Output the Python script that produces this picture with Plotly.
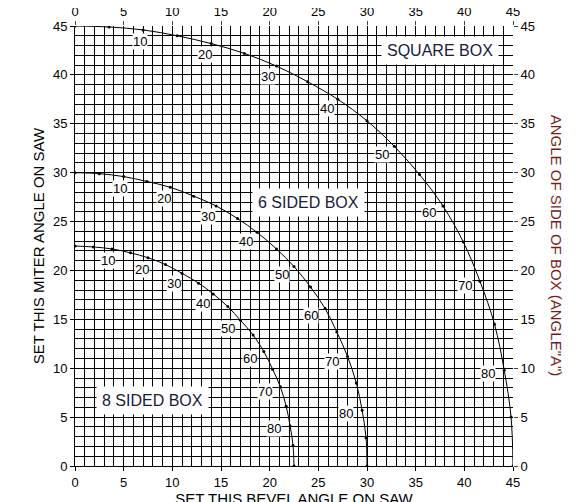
import plotly.graph_objects as go
import math

# angle of side of box, every 5 degrees
side_angle = list(range(0, 95, 5))

# bevel (x) and miter (y) for each side angle
square_bevel = [0, 3.5, 7.0, 10.5, 14.0, 17.4, 20.7, 23.9, 27.0, 30.0, 32.8, 35.4, 37.8, 39.9, 41.6, 43.1, 44.1, 44.8, 45]
square_miter = [45, 44.9, 44.6, 44.0, 43.2, 42.2, 40.9, 39.3, 37.5, 35.3, 32.7, 29.8, 26.6, 22.9, 18.9, 14.5, 9.8, 5.0, 0]
hex_bevel = [0, 2.5, 5.0, 7.4, 9.8, 12.2, 14.5, 16.7, 18.7, 20.7, 22.5, 24.2, 25.7, 26.9, 28.0, 28.9, 29.5, 29.9, 30]
hex_miter = [30, 29.9, 29.6, 29.1, 28.5, 27.6, 26.6, 25.3, 23.9, 22.2, 20.4, 18.3, 16.1, 13.7, 11.2, 8.5, 5.7, 2.9, 0]
oct_bevel = [0, 1.9, 3.8, 5.7, 7.5, 9.3, 11.0, 12.7, 14.2, 15.7, 17.0, 18.3, 19.4, 20.3, 21.1, 21.7, 22.1, 22.4, 22.5]
oct_miter = [22.5, 22.4, 22.2, 21.8, 21.3, 20.6, 19.7, 18.7, 17.6, 16.3, 14.9, 13.4, 11.7, 9.9, 8.1, 6.1, 4.1, 2.1, 0]

box_names = ["SQUARE BOX", "6 SIDED BOX", "8 SIDED BOX"]
box_label_pos = [(37.5, 42.5), (24, 27), (8, 6.7)]

font = "Liberation Sans, Arial, sans-serif"
fig = go.Figure()

for bx, my in [(square_bevel, square_miter), (hex_bevel, hex_miter), (oct_bevel, oct_miter)]:
    fig.add_trace(go.Scatter(x=bx, y=my, mode="lines+markers", line=dict(color="black", width=1, shape="spline"),
                             marker=dict(color="black", size=3), showlegend=False, hoverinfo="skip"))
    for a, x, y in zip(side_angle, bx, my):
        if a % 10 == 0 and 0 < a < 90:
            r = math.radians(a)
            fig.add_annotation(x=x, y=y, text=str(a), showarrow=False, bgcolor="white", borderpad=0,
                               xshift=-15 * math.sin(r) - 1, yshift=-11 * math.cos(r) - 1,
                               font=dict(size=13, color="black", family=font))

for name, (x, y) in zip(box_names, box_label_pos):
    fig.add_annotation(x=x, y=y, text=name, showarrow=False, bgcolor="white", borderpad=5,
                       font=dict(size=16, color="#1a1a3a", family=font))

# dummy traces for the top and right axes
fig.add_trace(go.Scatter(x=[0, 45], y=[0, 45], xaxis="x2", yaxis="y2", mode="none", showlegend=False, hoverinfo="skip"))

ax = dict(range=[0, 45], dtick=5, tick0=0, showgrid=True, gridcolor="black", gridwidth=1,
          minor=dict(dtick=1, showgrid=True, gridcolor="black", gridwidth=1),
          ticks="outside", ticklen=4, tickcolor="black", showline=True, linecolor="black", linewidth=1,
          zeroline=False, automargin=False, tickfont=dict(size=13, color="black", family=font))
ax2 = dict(range=[0, 45], dtick=5, showgrid=False, ticks="outside", ticklen=4, automargin=False,
           tickfont=dict(size=13, color="black", family=font))

fig.update_layout(
    width=585, height=502, plot_bgcolor="white", paper_bgcolor="white",
    margin=dict(l=67, r=80, t=18, b=44),
    xaxis=dict(ax, title=dict(text="SET THIS BEVEL ANGLE ON SAW", standoff=2,
                               font=dict(size=15, color="black", family=font))),
    yaxis=dict(ax, title=dict(text="SET THIS MITER ANGLE ON SAW", standoff=4,
                               font=dict(size=15, color="black", family=font))),
    xaxis2=dict(ax2, overlaying="x", side="top"),
    yaxis2=dict(ax2, overlaying="y", side="right"),
)
fig.add_annotation(xref="paper", yref="paper", x=1.125, y=0.5, text='ANGLE OF SIDE OF BOX (ANGLE"A")',
                   textangle=90, showarrow=False, font=dict(size=15, color="#7a1a1a", family=font))

fig.write_html("out.html")
